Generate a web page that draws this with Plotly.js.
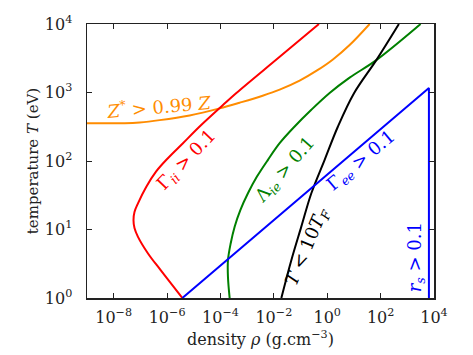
<!DOCTYPE html>
<html>
<head>
<meta charset="utf-8">
<script src="https://cdn.plot.ly/plotly-3.0.1.min.js"></script>
<style>
  html, body { margin: 0; padding: 0; background: #fff; }
  #plot { width: 473px; height: 355px; }
</style>
</head>
<body>
<div id="plot"></div>
<script>
// Plasma regime boundaries in the density–temperature plane
// density in g.cm^-3, temperature in eV

// Gamma_ii > 0.1 (ion coupling)
const gammaIiRho = [3.74e-6, 5.75e-7, 1.93e-7, 8.13e-8, 6.01e-8, 5.52e-8, 6.01e-8, 8.13e-8, 1.65e-7, 3.91e-7, 1.05e-6, 3.94e-6, 1.66e-5, 1.24e-4, 3.94e-4, 1.42e-2, 0.489];
const gammaIiT   = [1, 2.55, 4.47, 7.82, 10.5, 13.7, 18.0, 24.1, 41.8, 70.5, 109, 182, 319, 656, 984, 3160, 10000];

// Z* > 0.99 Z (near-complete ionisation)
const ionRho = [1e-9, 2.58e-8, 9.42e-8, 5.28e-7, 7.01e-6, 9.33e-5, 5.24e-4, 3.80e-3, 0.0165, 0.0925, 0.401, 1.59, 6.90, 38.7];
const ionT   = [357, 357, 366, 395, 463, 587, 710, 897, 1099, 1489, 2080, 3013, 4932, 10000];

// Lambda_ie > 0.1
const lambdaIeRho = [2.21e-4, 1.91e-4, 1.91e-4, 2.41e-4, 3.40e-4, 5.56e-4, 1.07e-3, 2.33e-3, 6.01e-3, 0.0165, 0.0601, 0.254, 1.23, 6.90, 69, 3148];
const lambdaIeT   = [1, 2.03, 3.56, 6.25, 11.0, 19.2, 33.8, 59.2, 104, 182, 319, 560, 984, 1648, 2970, 10000];

// T < 10 T_F (electron degeneracy)
const degenRho = [0.0191, 0.0452, 0.107, 0.254, 0.80, 2.52, 10.2, 69, 484];
const degenT   = [1, 3.56, 11.0, 33.8, 104, 319, 984, 2970, 10000];

// Gamma_ee > 0.1 edge, closed by r_s > 0.1
const electronRho = [3.74e-6, 6450, 6450];
const electronT   = [1, 1165, 1];

// Axis ticks
const xTickVals = [1e-8, 1e-6, 1e-4, 1e-2, 1, 1e2, 1e4];
const xTickText = ['10<sup>−8</sup>', '10<sup>−6</sup>', '10<sup>−4</sup>', '10<sup>−2</sup>', '10<sup>0</sup>', '10<sup>2</sup>', '10<sup>4</sup>'];
const yTickVals = [1, 10, 100, 1000, 10000];
const yTickText = ['10<sup>0</sup>', '10<sup>1</sup>', '10<sup>2</sup>', '10<sup>3</sup>', '10<sup>4</sup>'];

const FONT = 'DejaVu Serif, serif';
const INK = '#222';

function curve(x, y, color, shape) {
  return {
    x: x, y: y, type: 'scatter', mode: 'lines',
    line: { color: color, width: 2, shape: shape, smoothing: 1 },
    hoverinfo: 'skip', showlegend: false, cliponaxis: true
  };
}

const traces = [
  curve(ionRho, ionT, '#ff8c00', 'spline'),
  curve(gammaIiRho, gammaIiT, '#ff0000', 'spline'),
  curve(lambdaIeRho, lambdaIeT, '#008000', 'spline'),
  curve(degenRho, degenT, '#000000', 'spline'),
  curve(electronRho, electronT, '#0000ff', 'linear')
];

function label(text, x, y, angle, color) {
  return {
    text: text, xref: 'paper', yref: 'paper', x: x, y: y,
    xanchor: 'center', yanchor: 'middle', textangle: angle,
    showarrow: false, font: { family: FONT, size: 18, color: color }
  };
}

const axisCommon = {
  type: 'log', showgrid: false, zeroline: false,
  showline: true, linecolor: INK, linewidth: 1.5, mirror: 'allticks',
  ticks: 'inside', ticklen: 5, tickwidth: 1, tickcolor: INK,
  tickmode: 'array', tickfont: { family: FONT, size: 16, color: INK }
};

const layout = {
  width: 473, height: 355,
  margin: { l: 87, r: 39, t: 24, b: 57 },
  paper_bgcolor: '#fff', plot_bgcolor: '#fff',
  showlegend: false,
  xaxis: Object.assign({}, axisCommon, {
    range: [-9, 4], tickvals: xTickVals, ticktext: xTickText,
    ticklabelstandoff: 4,
    title: { text: 'density <i>ρ</i> (g.cm<sup>−3</sup>)', font: { family: FONT, size: 16, color: INK }, standoff: 8 }
  }),
  yaxis: Object.assign({}, axisCommon, {
    range: [0, 4], tickvals: yTickVals, ticktext: yTickText,
    ticklabelstandoff: 10,
    title: { text: 'temperature <i>T</i> (eV)', font: { family: FONT, size: 15, color: INK }, standoff: 2 }
  }),
  annotations: [
    label('<i>Z</i><sup>*</sup> > 0.99 <i>Z</i>', 0.206, 0.702, -5, '#ff8c00'),
    label('Γ<sub><i>ii</i></sub> > 0.1', 0.289, 0.503, -46, '#ff0000'),
    label('Λ<sub><i>ie</i></sub> > 0.1', 0.572, 0.467, -49, '#008000'),
    label('<i>T</i> &lt; 10<i>T</i><sub><i>F</i></sub>', 0.635, 0.187, -67, '#000000'),
    label('Γ<sub><i>ee</i></sub> > 0.1', 0.791, 0.500, -40, '#0000ff'),
    label('<i>r</i><sub><i>s</i></sub> > 0.1', 0.947, 0.147, -90, '#0000ff')
  ]
};

Plotly.newPlot('plot', traces, layout, { staticPlot: true, displayModeBar: false });
</script>
</body>
</html>
